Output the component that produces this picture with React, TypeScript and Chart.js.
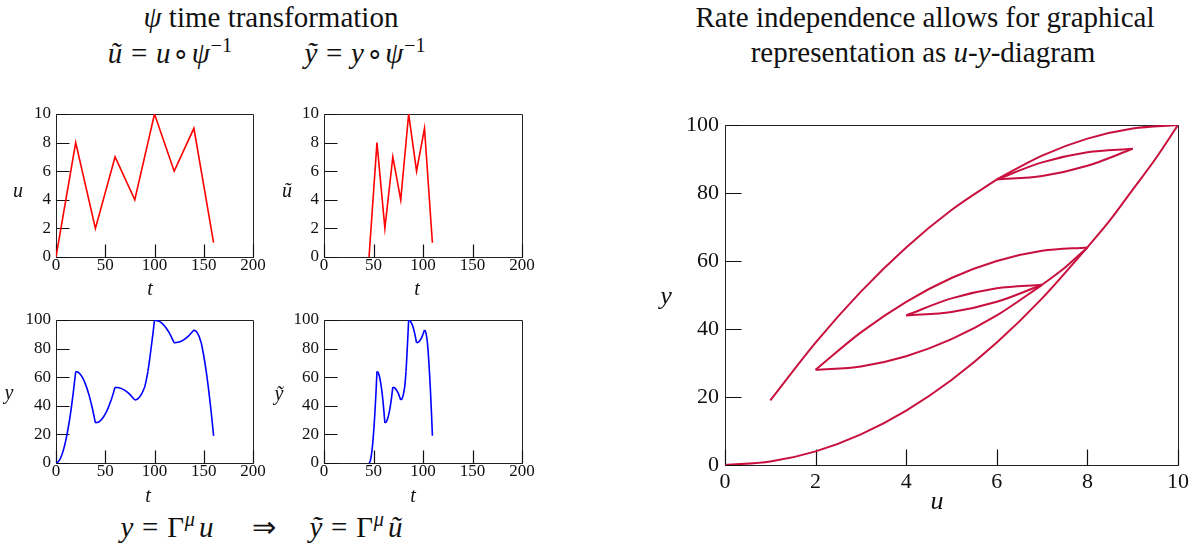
import React, { useEffect, useRef } from "react";
import { Chart, registerables } from "chart.js";

Chart.register(...registerables);

const SERIF = '"Liberation Serif", "Times New Roman", serif';

// ---- input u(t): turning points ----
const turnT = [0, 20, 40, 60, 80, 100, 120, 140, 160];
const turnU = [0, 8, 2, 7, 4, 10, 6, 9, 1];
// transformed time psi(t) of each turning point
const turnTTilde = [45.5, 53.5, 61.5, 69.5, 77.5, 85.5, 93.5, 101.5, 109.5];

// ---- hysteresis output (smooth pieces) ----
const piece1U = [0, 1, 2, 3, 4, 5, 6, 7, 8];
const piece1Y = [0, 1, 4, 9, 16, 25, 36, 49, 64];
const piece2U = [8, 7, 6, 5, 4, 3, 2];
const piece2Y = [64, 63, 60, 55, 48, 39, 28];
const piece3U = [2, 3, 4, 5, 6, 7];
const piece3Y = [28, 29, 32, 37, 44, 53];
const piece4U = [7, 6, 5, 4];
const piece4Y = [53, 52, 49, 44];
const piece5aU = [4, 5, 6, 7];
const piece5aY = [44, 45, 48, 53];
const piece5bU = [7, 7.5, 8];
const piece5bY = [53, 58, 64];
const piece5cU = [8, 8.5, 9, 9.5, 10];
const piece5cY = [64, 72, 81, 90, 100];
const piece6U = [10, 9, 8, 7, 6];
const piece6Y = [100, 99, 96, 91, 84];
const piece7U = [6, 7, 8, 9];
const piece7Y = [84, 85, 88, 93];
const piece8aU = [9, 8, 7, 6];
const piece8aY = [93, 92, 89, 84];
const piece8bU = [6, 5, 4, 3, 2, 1];
const piece8bY = [84, 75, 64, 51, 36, 19];

// seg = index of the input segment (between turning points seg and seg+1)
const pieces = [
  { seg: 0, u: piece1U, y: piece1Y },
  { seg: 1, u: piece2U, y: piece2Y },
  { seg: 2, u: piece3U, y: piece3Y },
  { seg: 3, u: piece4U, y: piece4Y },
  { seg: 4, u: piece5aU, y: piece5aY },
  { seg: 4, u: piece5bU, y: piece5bY },
  { seg: 4, u: piece5cU, y: piece5cY },
  { seg: 5, u: piece6U, y: piece6Y },
  { seg: 6, u: piece7U, y: piece7Y },
  { seg: 7, u: piece8aU, y: piece8aY },
  { seg: 7, u: piece8bU, y: piece8bY },
];

// axis ticks
const smallTTicks = [0, 50, 100, 150, 200];
const smallUTicks = [0, 2, 4, 6, 8, 10];
const smallYTicks = [0, 20, 40, 60, 80, 100];
const bigUTicks = [0, 2, 4, 6, 8, 10];
const bigYTicks = [0, 20, 40, 60, 80, 100];

const RED = "#ff0000";
const BLUE = "#0000ff";
const CRIMSON = "#c8103e";

function timeOf(seg: number, u: number, times: number[]) {
  const u0 = turnU[seg];
  const u1 = turnU[seg + 1];
  return times[seg] + ((u - u0) / (u1 - u0)) * (times[seg + 1] - times[seg]);
}

function inputDatasets(times: number[]) {
  return [
    {
      data: times.map((t, i) => ({ x: t, y: turnU[i] })),
      borderColor: RED,
      borderWidth: 1.6,
      tension: 0,
    },
  ];
}

function outputDatasets(times: number[]) {
  return pieces.map((p) => ({
    data: p.u.map((u, i) => ({ x: timeOf(p.seg, u, times), y: p.y[i] })),
    borderColor: BLUE,
    borderWidth: 1.6,
    cubicInterpolationMode: "monotone",
  }));
}

function diagramDatasets() {
  return pieces.map((p) => ({
    data: p.u.map((u, i) => ({ x: u, y: p.y[i] })),
    borderColor: CRIMSON,
    borderWidth: 2,
    cubicInterpolationMode: "monotone",
  }));
}

function makeFramePlugin(len: number) {
  return {
    id: "frameTicks",
    beforeDatasetsDraw(chart: any) {
      const { ctx, chartArea: a } = chart;
      const xs = chart.scales.x;
      const ys = chart.scales.y;
      const L = Math.round(a.left) + 0.5;
      const T = Math.round(a.top) + 0.5;
      const R = Math.round(a.right) + 0.5;
      const B = Math.round(a.bottom) + 0.5;
      ctx.save();
      ctx.strokeStyle = "#222";
      ctx.lineWidth = 1;
      ctx.beginPath();
      ctx.rect(L, T, R - L, B - T);
      ctx.stroke();
      ctx.strokeStyle = "#111";
      ctx.lineWidth = 1.2;
      ctx.beginPath();
      for (const t of ys.ticks) {
        const p = Math.round(ys.getPixelForValue(t.value)) + 0.5;
        ctx.moveTo(L, p);
        ctx.lineTo(L + len, p);
      }
      for (const t of xs.ticks) {
        const p = Math.round(xs.getPixelForValue(t.value)) + 0.5;
        ctx.moveTo(p, B);
        ctx.lineTo(p, B - len);
      }
      ctx.stroke();
      ctx.restore();
    },
  };
}

type PlotProps = {
  left: number;
  top: number;
  right: number;
  bottom: number;
  xMin: number;
  xMax: number;
  yMin: number;
  yMax: number;
  xTicks: number[];
  yTicks: number[];
  fontSize: number;
  tickLen: number;
  xPad: number;
  yPad: number;
  datasets: any[];
};

function Plot(p: PlotProps) {
  const ref = useRef<HTMLCanvasElement | null>(null);
  const yW = 64;
  const xH = 34;
  const padT = 16;
  const padR = 24;
  const cw = p.right - p.left + yW + padR;
  const ch = p.bottom - p.top + xH + padT;
  useEffect(() => {
    if (!ref.current) return;
    const font = { family: SERIF, size: p.fontSize };
    const fit = (h: boolean) => (s: any) => {
      if (h) s.height = xH;
      else s.width = yW;
      s.paddingLeft = 0;
      s.paddingRight = 0;
      s.paddingTop = 0;
      s.paddingBottom = 0;
    };
    const chart = new Chart(ref.current, {
      type: "line",
      data: { datasets: p.datasets },
      plugins: [makeFramePlugin(p.tickLen)],
      options: {
        animation: false,
        responsive: false,
        maintainAspectRatio: false,
        devicePixelRatio: 1,
        layout: { padding: { top: padT, right: padR, left: 0, bottom: 0 }, autoPadding: false },
        elements: { point: { radius: 0 }, line: { fill: false } },
        plugins: {
          legend: { display: false },
          tooltip: { enabled: false },
        },
        scales: {
          x: {
            type: "linear",
            min: p.xMin,
            max: p.xMax,
            afterBuildTicks: (s: any) => {
              s.ticks = p.xTicks.map((v) => ({ value: v }));
            },
            ticks: { font, color: "#111", padding: p.xPad, maxRotation: 0, autoSkip: false },
            grid: { display: false, drawTicks: false },
            border: { display: false },
            afterFit: fit(true),
          },
          y: {
            type: "linear",
            min: p.yMin,
            max: p.yMax,
            afterBuildTicks: (s: any) => {
              s.ticks = p.yTicks.map((v) => ({ value: v }));
            },
            ticks: { font, color: "#111", padding: p.yPad, autoSkip: false },
            grid: { display: false, drawTicks: false },
            border: { display: false },
            afterFit: fit(false),
          },
        },
      } as any,
    });
    return () => chart.destroy();
  }, []);
  return (
    <canvas
      ref={ref}
      width={cw}
      height={ch}
      style={{
        position: "absolute",
        left: p.left - yW,
        top: p.top - padT,
        width: cw,
        height: ch,
      }}
    />
  );
}

function Txt(props: { cx: number; base: number; size: number; italic?: boolean; children: any }) {
  const w = 600;
  return (
    <div
      style={{
        position: "absolute",
        left: props.cx - w / 2,
        top: props.base - 0.8375 * props.size,
        width: w,
        textAlign: "center",
        fontFamily: SERIF,
        fontSize: props.size,
        lineHeight: `${props.size}px`,
        fontStyle: props.italic ? "italic" : "normal",
        whiteSpace: "nowrap",
        color: "#111",
      }}
    >
      {props.children}
    </div>
  );
}

const Sup = (props: { children: any }) => (
  <span style={{ fontSize: "0.7em", position: "relative", top: "-0.55em", marginLeft: "0.04em" }}>
    {props.children}
  </span>
);

const Circ = () => (
  <span style={{ fontSize: "0.95em", margin: "0 0.06em", position: "relative", top: "-0.02em" }}>∘</span>
);

const Eq = () => <span style={{ margin: "0 0.3em" }}>=</span>;

export default function App() {
  const small = { fontSize: 17, tickLen: 13, xPad: -2, yPad: 5 };
  return (
    <div
      style={{
        position: "absolute",
        left: 0,
        top: 0,
        width: 1194,
        height: 549,
        background: "#fff",
        overflow: "hidden",
      }}
    >
      <Txt cx={271} base={27} size={29}>
        <i>ψ</i> time transformation
      </Txt>
      <Txt cx={170} base={63} size={29}>
        <i>ũ</i>
        <Eq />
        <i>u</i>
        <Circ />
        <i>ψ</i>
        <Sup>−1</Sup>
      </Txt>
      <Txt cx={365} base={63} size={29}>
        <i>ỹ</i>
        <Eq />
        <i>y</i>
        <Circ />
        <i>ψ</i>
        <Sup>−1</Sup>
      </Txt>
      <Txt cx={925} base={27} size={29}>
        Rate independence allows for graphical
      </Txt>
      <Txt cx={923} base={62} size={29}>
        representation as <i>u</i>-<i>y</i>-diagram
      </Txt>
      <Txt cx={167} base={537} size={29}>
        <i>y</i>
        <Eq />Γ
        <Sup>
          <i>μ</i>
        </Sup>
        <span style={{ marginLeft: "0.14em" }}>
          <i>u</i>
        </span>
      </Txt>
      <Txt cx={264} base={537} size={29}>
        ⇒
      </Txt>
      <Txt cx={356} base={537} size={29}>
        <i>ỹ</i>
        <Eq />Γ
        <Sup>
          <i>μ</i>
        </Sup>
        <span style={{ marginLeft: "0.14em" }}>
          <i>ũ</i>
        </span>
      </Txt>

      <Plot
        left={56}
        top={114}
        right={253}
        bottom={257}
        xMin={0}
        xMax={200}
        yMin={0}
        yMax={10}
        xTicks={smallTTicks}
        yTicks={smallUTicks}
        {...small}
        datasets={inputDatasets(turnT)}
      />
      <Plot
        left={324}
        top={114}
        right={522}
        bottom={257}
        xMin={0}
        xMax={200}
        yMin={0}
        yMax={10}
        xTicks={smallTTicks}
        yTicks={smallUTicks}
        {...small}
        datasets={inputDatasets(turnTTilde)}
      />
      <Plot
        left={56}
        top={320}
        right={253}
        bottom={463}
        xMin={0}
        xMax={200}
        yMin={0}
        yMax={100}
        xTicks={smallTTicks}
        yTicks={smallYTicks}
        {...small}
        datasets={outputDatasets(turnT)}
      />
      <Plot
        left={324}
        top={320}
        right={522}
        bottom={463}
        xMin={0}
        xMax={200}
        yMin={0}
        yMax={100}
        xTicks={smallTTicks}
        yTicks={smallYTicks}
        {...small}
        datasets={outputDatasets(turnTTilde)}
      />
      <Plot
        left={725}
        top={125}
        right={1178}
        bottom={465}
        xMin={0}
        xMax={10}
        yMin={0}
        yMax={100}
        xTicks={bigUTicks}
        yTicks={bigYTicks}
        fontSize={22}
        tickLen={16}
        xPad={4}
        yPad={6}
        datasets={diagramDatasets()}
      />

      <Txt cx={18} base={197} size={20} italic>u</Txt>
      <Txt cx={150} base={295} size={20} italic>t</Txt>
      <Txt cx={287} base={197} size={20} italic>ũ</Txt>
      <Txt cx={417} base={295} size={20} italic>t</Txt>
      <Txt cx={9} base={399} size={20} italic>y</Txt>
      <Txt cx={148} base={502} size={20} italic>t</Txt>
      <Txt cx={279} base={400} size={20} italic>ỹ</Txt>
      <Txt cx={413} base={502} size={20} italic>t</Txt>
      <Txt cx={666} base={305} size={26} italic>y</Txt>
      <Txt cx={937} base={510} size={26} italic>u</Txt>
    </div>
  );
}
